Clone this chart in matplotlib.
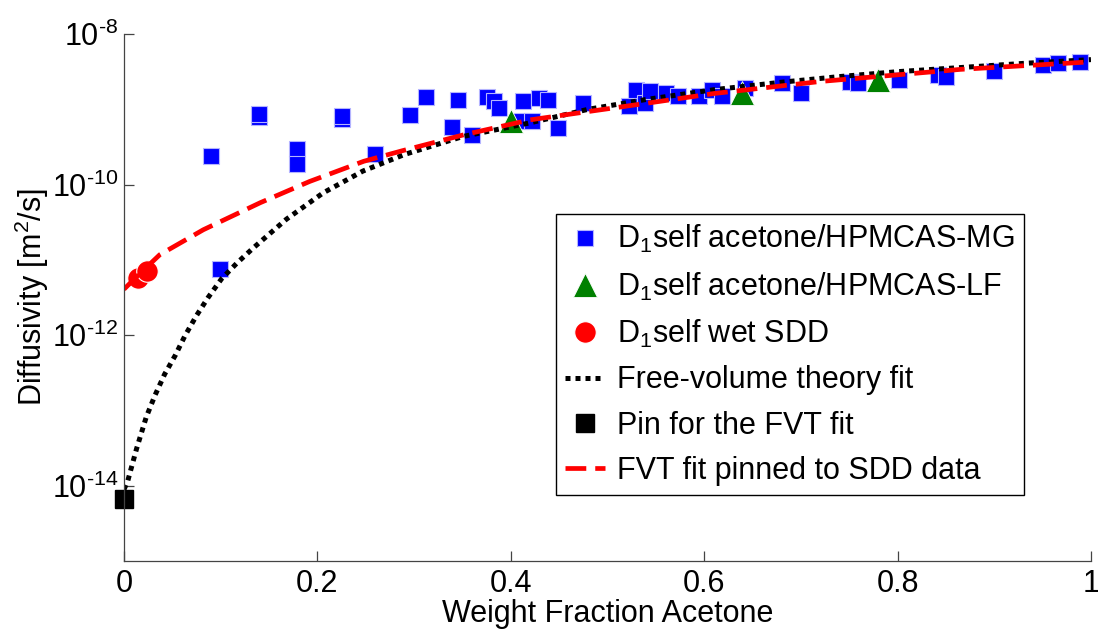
import matplotlib
matplotlib.use("Agg")
import matplotlib.pyplot as plt

plt.rcParams["font.family"] = ["Liberation Sans", "DejaVu Sans"]
plt.rcParams["mathtext.fontset"] = "custom"
plt.rcParams["mathtext.rm"] = "Liberation Sans"
plt.rcParams["mathtext.it"] = "Liberation Sans"
plt.rcParams["mathtext.default"] = "regular"

# D1self acetone/HPMCAS-MG
mg_w = [0.090, 0.099, 0.140, 0.140, 0.179, 0.179, 0.225, 0.225, 0.260, 0.296,
        0.312, 0.339, 0.345, 0.360, 0.375, 0.383, 0.388, 0.411, 0.413, 0.422,
        0.429, 0.439, 0.449, 0.475, 0.522, 0.530, 0.539, 0.544, 0.561, 0.573,
        0.595, 0.608, 0.618, 0.642, 0.680, 0.700, 0.751, 0.759, 0.801, 0.842,
        0.850, 0.900, 0.950, 0.966, 0.989]
mg_d = [2.37e-10, 7.48e-12, 7.89e-10, 8.71e-10, 2.97e-10, 1.88e-10, 7.48e-10, 8.13e-10, 2.51e-10, 8.45e-10,
        1.45e-9, 5.81e-10, 1.31e-9, 4.59e-10, 1.45e-9, 1.27e-9, 1.04e-9, 6.89e-10, 1.27e-9, 6.89e-10,
        1.41e-9, 1.32e-9, 5.62e-10, 1.21e-9, 1.11e-9, 1.81e-9, 1.21e-9, 1.74e-9, 1.64e-9, 1.48e-9,
        1.48e-9, 1.81e-9, 1.51e-9, 1.91e-9, 2.22e-9, 1.64e-9, 2.33e-9, 2.22e-9, 2.46e-9, 2.86e-9,
        2.72e-9, 3.27e-9, 3.89e-9, 4.09e-9, 4.30e-9]

# D1self acetone/HPMCAS-LF
lf_w = [0.400, 0.639, 0.780]
lf_d = [6.89e-10, 1.64e-9, 2.46e-9]

# D1self wet SDD
sdd_w = [0.0148, 0.0235]
sdd_d = [5.81e-12, 7.11e-12]

# pin for the FVT fit
pin_w = [0.0]
pin_d = [6.6e-15]

# free-volume theory fit
fvt_w = [0.0, 0.004, 0.013, 0.023, 0.032, 0.042, 0.053, 0.063, 0.075, 0.087,
         0.101, 0.117, 0.134, 0.168, 0.206, 0.247, 0.290, 0.351, 0.420, 0.480,
         0.540, 0.610, 0.680, 0.740, 0.800, 0.860, 0.930, 1.0]
fvt_d = [8.9e-15, 1.17e-14, 3.09e-14, 8.13e-14, 1.58e-13, 3.02e-13, 5.37e-13, 9.77e-13, 1.82e-12, 3.16e-12,
         5.62e-12, 9.12e-12, 1.45e-11, 3.47e-11, 7.76e-11, 1.51e-10, 2.51e-10, 4.37e-10, 6.61e-10, 1.0e-9,
         1.35e-9, 1.82e-9, 2.29e-9, 2.72e-9, 3.16e-9, 3.55e-9, 4.07e-9, 4.57e-9]

# FVT fit pinned to SDD data
pinned_w = [0.0, 0.015, 0.037, 0.082, 0.141, 0.192, 0.248, 0.288, 0.351, 0.420,
            0.480, 0.540, 0.610, 0.720, 0.865, 1.0]
pinned_d = [4.07e-12, 6.31e-12, 1.17e-11, 2.51e-11, 5.75e-11, 1.10e-10, 2.04e-10, 2.82e-10, 4.57e-10, 7.24e-10,
            9.33e-10, 1.20e-9, 1.62e-9, 2.34e-9, 3.39e-9, 4.27e-9]

x_ticks = [0, 0.2, 0.4, 0.6, 0.8, 1]
x_ticklabels = ["0", "0.2", "0.4", "0.6", "0.8", "1"]
y_ticks = [1e-14, 1e-12, 1e-10, 1e-8]
y_ticklabels = [r"$10^{\text{-14}}$", r"$10^{\text{-12}}$", r"$10^{\text{-10}}$", r"$10^{\text{-8}}$"]

fig = plt.figure(figsize=(10.98, 6.31), dpi=100)
ax = fig.add_axes([0.1129, 0.1109, 0.8807, 0.8352])

ax.plot(mg_w, mg_d, ls="none", marker="s", ms=12, color="blue",
        mec="#b4b4ff", mew=0.8, label=r"D$_1$self acetone/HPMCAS-MG", clip_on=False)
ax.plot(lf_w, lf_d, ls="none", marker="^", ms=17, color="green",
        mec="white", mew=0.6, label=r"D$_1$self acetone/HPMCAS-LF", clip_on=False)
ax.plot(sdd_w, sdd_d, ls="none", marker="o", ms=15.5, color="red",
        mec="white", mew=0.8, label=r"D$_1$self wet SDD", clip_on=False)
ax.plot(fvt_w, fvt_d, color="black", lw=3.6, dashes=(1.0, 1.0),
        dash_capstyle="butt", label="Free-volume theory fit")
ax.plot(pin_w, pin_d, ls="none", marker="s", ms=13, color="black",
        label="Pin for the FVT fit", clip_on=False)
ax.plot(pinned_w, pinned_d, color="red", lw=3.4, dashes=(4.4, 1.9),
        dash_capstyle="butt", label="FVT fit pinned to SDD data")

ax.set_yscale("log")
ax.set_xlim(0, 1)
ax.set_ylim(1e-15, 1e-8)
ax.set_xticks(x_ticks, labels=x_ticklabels)
ax.set_yticks(y_ticks, labels=y_ticklabels)
ax.yaxis.set_minor_locator(matplotlib.ticker.NullLocator())

for side in ["top", "right"]:
    ax.spines[side].set_visible(False)
for side in ["left", "bottom"]:
    ax.spines[side].set_color("#444444")
    ax.spines[side].set_linewidth(0.9)
ax.tick_params(axis="both", which="major", direction="in", length=7,
               width=0.9, color="#444444", labelsize=22)
ax.tick_params(axis="x", pad=6)
ax.tick_params(axis="y", pad=4)

ax.set_xlabel("Weight Fraction Acetone", fontsize=22, labelpad=0)
ax.set_ylabel(r"Diffusivity [m$^2$/s]", fontsize=22, labelpad=1)

leg = ax.legend(loc="upper left", bbox_to_anchor=(0.4467, 0.6584),
                borderaxespad=0, fontsize=22, handlelength=1.3,
                handletextpad=0.4, borderpad=0.3, labelspacing=0.5,
                fancybox=False, framealpha=1, edgecolor="black")
leg.get_frame().set_linewidth(1.0)

fig.savefig("out.png", dpi=100)
